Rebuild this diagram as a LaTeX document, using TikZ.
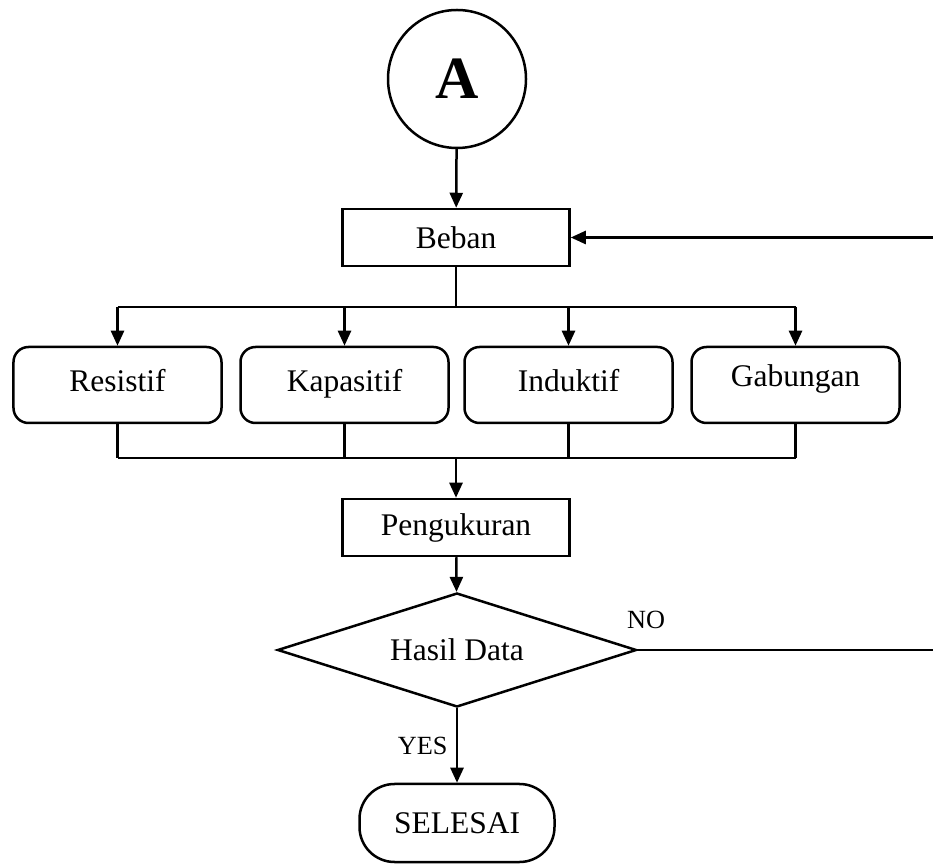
\documentclass[tikz,border=0pt]{standalone}
\usepackage{fontspec}
\setmainfont{Liberation Serif}
\usetikzlibrary{shapes.geometric, arrows.meta}

\begin{document}
\begin{tikzpicture}[
    x=0.4pt, y=-0.4pt,
    font=\fontsize{12.6}{15}\selectfont,
    line width=1pt,
    flow/.style={-{Triangle[length=6pt, width=5.2pt]}},
    prosesbox/.style={draw, rectangle, minimum width=90.8pt, minimum height=22.8pt, inner sep=0pt},
    bebanbox/.style={draw, rectangle, rounded corners=6pt, minimum width=83.2pt, minimum height=30.4pt, inner sep=0pt, text height=1.6ex, text depth=0.5ex}
]
    \useasboundingbox (0,0) rectangle (933,864);

    % 1. Connector A and the load block
    \node[draw, circle, minimum size=55.2pt, inner sep=0pt, font=\fontsize{24}{28}\selectfont\bfseries] (conA) at (457,79) {A};
    \node[prosesbox] (beban) at (456,237.5) {Beban};
    \draw[flow] (conA) -- (beban);

    % 2. The four load types
    \node[bebanbox] (resistif) at (117.5,385) {Resistif};
    \node[bebanbox] (kapasitif) at (344.5,385) {Kapasitif};
    \node[bebanbox] (induktif) at (568.5,385) {Induktif};
    \node[bebanbox] (gabungan) at (795.5,385) {\raisebox{2pt}{Gabungan}};

    \coordinate (busatas) at (456,307);
    \coordinate (busbawah) at (456,458);
    \draw (beban.south) -- (busatas);
    \draw (resistif.north |- busatas) -- (gabungan.north |- busatas);
    \foreach \b in {resistif, kapasitif, induktif, gabungan} {
        \draw[flow] (\b.north |- busatas) -- (\b.north);
        \draw (\b.south) -- (\b.south |- busbawah);
    }
    \draw (resistif.south |- busbawah) -- (gabungan.south |- busbawah);

    % 3. Measurement and decision
    \node[prosesbox] (ukur) at (456,527.5) {Pengukuran};
    \draw[flow] (busbawah) -- (ukur);

    \node[draw, diamond, aspect=3.15, minimum width=143.6pt, minimum height=45.6pt, inner sep=0pt] (hasil) at (457,650) {Hasil Data};
    \draw[flow] (ukur) -- (hasil);

    \node[draw, rectangle, rounded corners=14pt, minimum width=78pt, minimum height=31.2pt, inner sep=0pt] (selesai) at (457,823) {SELESAI};
    \draw[flow] (hasil) -- node[left, font=\fontsize{10.5}{12}\selectfont] {YES} (selesai);

    % 4. Loop back when the data is not good
    \coordinate (balikbawah) at (933,650);
    \coordinate (balikatas) at (933,237.5);
    \draw (hasil.east) -- (balikbawah);
    \node[font=\fontsize{10.5}{12}\selectfont] (no) at (646,620) {NO};
    \draw[flow] (balikatas) -- (beban.east);

\end{tikzpicture}
\end{document}
